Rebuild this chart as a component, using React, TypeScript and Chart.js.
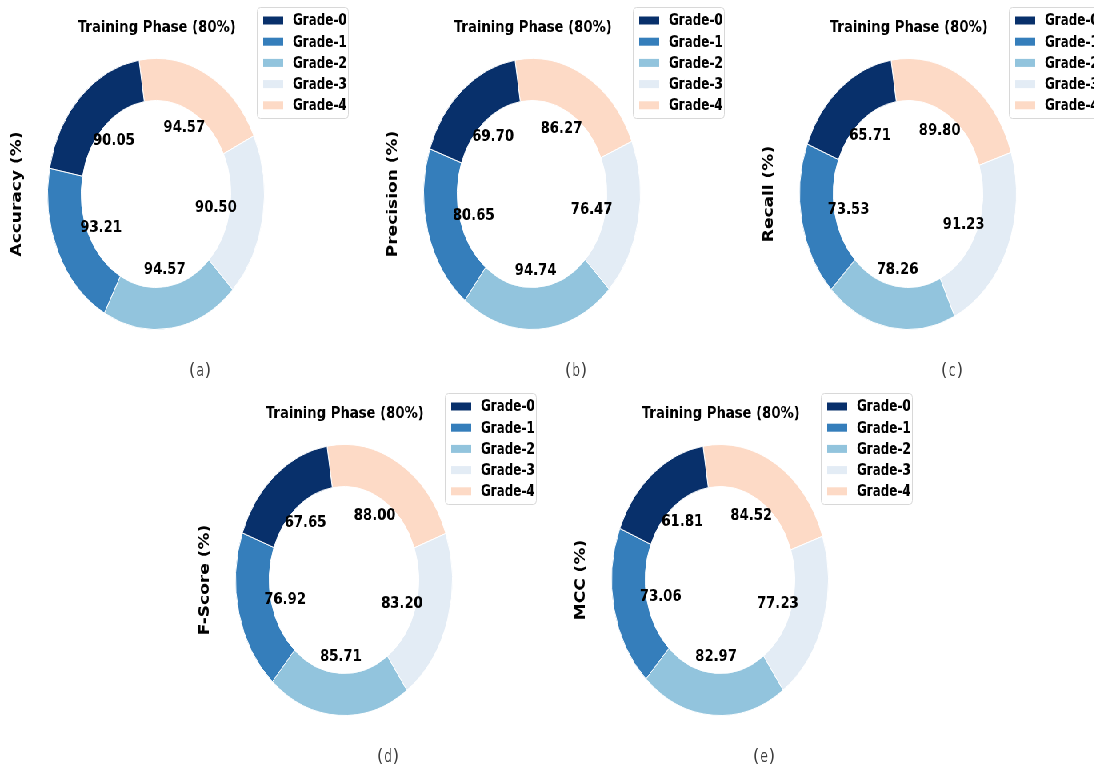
import React, { useEffect, useRef } from "react";
import { Chart, registerables } from "chart.js";

Chart.register(...registerables);

// Class names and their colours (legend order)
const grades = ["Grade-0", "Grade-1", "Grade-2", "Grade-3", "Grade-4"];
const gradeColors = ["#08306b", "#357ebb", "#92c4dd", "#e3ecf5", "#fddac6"];

// Per-class scores for the training phase
const accuracy = [90.05, 93.21, 94.57, 90.5, 94.57];
const precision = [69.7, 80.65, 94.74, 76.47, 86.27];
const recall = [65.71, 73.53, 78.26, 91.23, 89.8];
const fScore = [67.65, 76.92, 85.71, 83.2, 88.0];
const mcc = [61.81, 73.06, 82.97, 77.23, 84.52];

const phaseTitle = "Training Phase (80%)";

type PanelSpec = {
  values: number[];
  yLabel: string;
  caption: string;
  left: number;
  top: number;
};

const panels: PanelSpec[] = [
  { values: accuracy, yLabel: "Accuracy (%)", caption: "(a)", left: 0, top: 0 },
  { values: precision, yLabel: "Precision (%)", caption: "(b)", left: 470, top: 0 },
  { values: recall, yLabel: "Recall (%)", caption: "(c)", left: 940, top: 0 },
  { values: fScore, yLabel: "F-Score (%)", caption: "(d)", left: 235, top: 386 },
  { values: mcc, yLabel: "MCC (%)", caption: "(e)", left: 705, top: 386 },
];

const PANEL_W = 470;
const PANEL_H = 386;
const FONT = "'DejaVu Sans', 'Noto Sans', sans-serif";

// Draws title, legend, axis label, caption and the value labels on each ring
function decorPlugin(spec: PanelSpec) {
  return {
    id: "panelDecor",
    afterDraw(chart: any) {
      const ctx: CanvasRenderingContext2D = chart.ctx;
      const area = chart.chartArea;
      const cx = (area.left + area.right) / 2;
      const cy = (area.top + area.bottom) / 2;
      ctx.save();

      // value labels inside the ring
      const meta = chart.getDatasetMeta(0);
      const data = chart.data.datasets[0].data as number[];
      ctx.fillStyle = "#000";
      ctx.font = `bold 16.5px ${FONT}`;
      ctx.textAlign = "center";
      ctx.textBaseline = "middle";
      meta.data.forEach((arc: any, i: number) => {
        const mid = (arc.startAngle + arc.endAngle) / 2;
        const r = arc.outerRadius * 0.56;
        ctx.fillText(data[i].toFixed(2), arc.x + Math.cos(mid) * r, arc.y + Math.sin(mid) * r + 1);
      });

      // title
      ctx.font = `bold 16.5px ${FONT}`;
      ctx.fillText(phaseTitle, cx + 1, 28);

      // legend
      const lx = 321.5;
      const ly = 7.5;
      ctx.beginPath();
      ctx.roundRect(lx, ly, 114, 111, 4);
      ctx.fillStyle = "rgba(255,255,255,0.85)";
      ctx.fill();
      ctx.strokeStyle = "#d8d8d8";
      ctx.lineWidth = 1;
      ctx.stroke();
      ctx.font = `bold 15px ${FONT}`;
      ctx.textAlign = "left";
      grades.forEach((g, i) => {
        const y = 20.5 + i * 21.2;
        ctx.fillStyle = gradeColors[i];
        ctx.fillRect(329, y - 4, 25, 8);
        ctx.fillStyle = "#000";
        ctx.fillText(g, 366, y + 1);
      });

      // rotated axis label
      ctx.save();
      ctx.translate(22, cy);
      ctx.rotate(-Math.PI / 2);
      ctx.textAlign = "center";
      ctx.font = `bold 17px ${FONT}`;
      ctx.fillText(spec.yLabel, 0, 0);
      ctx.restore();

      // panel caption
      ctx.textAlign = "center";
      ctx.fillStyle = "#3c3c3c";
      ctx.font = `17px 'DejaVu Sans Mono', monospace`;
      ctx.fillText(spec.caption, 250, 372);

      ctx.restore();
    },
  };
}

function DonutPanel({ spec }: { spec: PanelSpec }) {
  const ref = useRef<HTMLCanvasElement>(null);
  useEffect(() => {
    if (!ref.current) return;
    // slices run counter-clockwise from the top, so feed them reversed
    const chart = new Chart(ref.current, {
      type: "doughnut",
      data: {
        labels: [...grades].reverse(),
        datasets: [
          {
            data: [...spec.values].reverse(),
            backgroundColor: [...gradeColors].reverse(),
            borderColor: "#ffffff",
            borderWidth: 1,
          },
        ],
      },
      options: {
        responsive: false,
        animation: false,
        devicePixelRatio: 1,
        rotation: -9,
        cutout: "69%",
        events: [],
        layout: { padding: { left: 59, right: 139, top: 58, bottom: 56 } },
        plugins: {
          legend: { display: false },
          tooltip: { enabled: false },
          title: { display: false },
        },
      },
      plugins: [decorPlugin(spec)],
    });
    return () => chart.destroy();
  }, [spec]);
  return (
    <canvas
      ref={ref}
      width={PANEL_W}
      height={PANEL_H}
      style={{ position: "absolute", left: spec.left, top: spec.top }}
    />
  );
}

export default function App() {
  return (
    <div
      style={{
        position: "absolute",
        left: 0,
        top: 0,
        width: 1367.5,
        height: 769,
        overflow: "hidden",
        background: "#ffffff",
        transform: "scaleX(0.8)",
        transformOrigin: "0 0",
      }}
    >
      {panels.map((p) => (
        <DonutPanel key={p.caption} spec={p} />
      ))}
    </div>
  );
}
